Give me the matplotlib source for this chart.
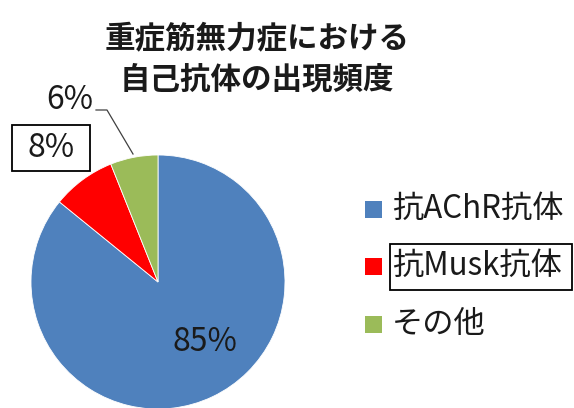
import matplotlib
matplotlib.use("Agg")
import matplotlib.pyplot as plt
from matplotlib.patches import Rectangle

plt.rcParams['font.family'] = ['Noto Sans CJK JP', 'DejaVu Sans']

# Autoantibody frequency in myasthenia gravis
title = "重症筋無力症における\n自己抗体の出現頻度"
labels = ["抗AChR抗体", "抗Musk抗体", "その他"]
values = [85, 8, 6]
colors = ["#4F81BD", "#FF0000", "#9BBB59"]

W, H = 574, 408
fig = plt.figure(figsize=(W / 100, H / 100), dpi=100)
ax = fig.add_axes([0, 0, 1, 1])

cx, cy, r = 158, H - 282, 127
wedges, _ = ax.pie(values, colors=colors, startangle=90, counterclock=False,
                   center=(cx, cy), radius=r, frame=True,
                   wedgeprops=dict(edgecolor='white', linewidth=0.6))
ax.set_xlim(0, W)
ax.set_ylim(0, H)
ax.set_aspect('equal')
ax.axis('off')

txt = "#1a1a1a"
fs = 23
# Value labels
ax.text(205, H - 342, f"{values[0]}%", fontsize=fs, color=txt,
        ha='center', va='center')
ax.add_patch(Rectangle((12, H - 171), 78, 46, facecolor='white',
                       edgecolor='black', lw=1.3, zorder=3))
ax.text(51, H - 148, f"{values[1]}%", fontsize=fs, color=txt,
        ha='center', va='center', zorder=4)
ax.text(70, H - 100, f"{values[2]}%", fontsize=fs, color=txt,
        ha='center', va='center')
ax.plot([96, 107, 133], [H - 110, H - 110, H - 154], color='#404040', lw=0.9)

# Title
ax.text(257, H - 59, title, fontsize=22, fontweight='bold', color=txt,
        ha='center', va='center', linespacing=1.35)

# Legend
ys = [209, 266, 324]
for i, (lab, col) in enumerate(zip(labels, colors)):
    y = H - ys[i]
    ax.add_patch(Rectangle((365, y - 8.5), 17, 17, facecolor=col, edgecolor='none'))
    if i == 1:
        ax.add_patch(Rectangle((390, y - 24), 182, 46, facecolor='white',
                               edgecolor='black', lw=1.3, zorder=3))
    ax.text(392, y, lab, fontsize=22.5, color=txt, ha='left', va='center',
            zorder=4)

fig.savefig("out.png", dpi=100)
